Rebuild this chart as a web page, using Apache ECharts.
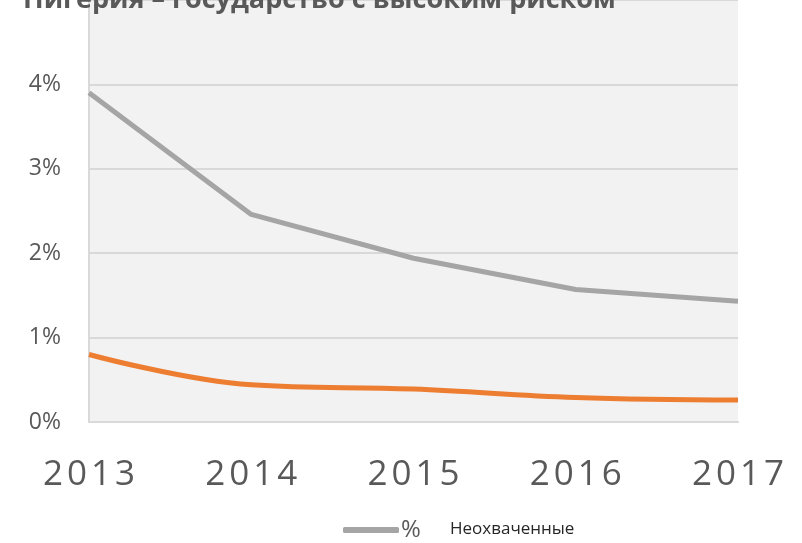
<!DOCTYPE html>
<html>
<head>
<meta charset="utf-8">
<title>Нигерия</title>
<script src="https://cdn.jsdelivr.net/npm/echarts@6/dist/echarts.min.js"></script>
<style>
html, body { margin: 0; padding: 0; background: #fff; }
#chart { width: 802px; height: 543px; }
</style>
</head>
<body>
<div id="chart"></div>
<script type="text/javascript">
var years = ['2013', '2014', '2015', '2016', '2017'];
var pct = [3.9, 2.46, 1.94, 1.57, 1.43];
var uncovered = [0.8, 0.44, 0.39, 0.29, 0.26];

var chart = echarts.init(document.getElementById('chart'));
var option = {
    animation: false,
    title: {
        text: 'Нигерия – государство с высоким риском',
        left: 18,
        top: -18,
        textStyle: { fontFamily: 'Open Sans', fontWeight: 'bold', fontSize: 27, color: '#595959' }
    },
    grid: { left: 89, right: 64, top: 0, bottom: 121, containLabel: false, show: true, backgroundColor: '#f2f2f2', borderWidth: 0 },
    legend: [
        {
            top: 513,
            left: 338,
            itemWidth: 56,
            itemHeight: 6,
            icon: 'roundRect',
            data: [{ name: '%', textStyle: { fontSize: 24, color: '#595959', fontFamily: 'Open Sans', padding: [0, 0, 0, -3] } }]
        },
        {
            top: 516,
            left: 438,
            itemWidth: 1,
            itemHeight: 1,
            data: [{ name: 'Неохваченные', itemStyle: { opacity: 0 }, lineStyle: { opacity: 0 }, textStyle: { fontSize: 17, color: '#262626', fontFamily: 'Open Sans' } }]
        }
    ],
    xAxis: {
        type: 'category',
        boundaryGap: false,
        data: years,
        axisLine: { lineStyle: { color: '#d9d9d9', width: 2 } },
        axisTick: { show: false },
        axisLabel: {
            margin: 36,
            formatter: function (v) {
                return v.split('').map(function (c) { return '{d|' + c + '}'; }).join('');
            },
            rich: { d: { fontSize: 35, color: '#595959', fontFamily: 'Open Sans', fontWeight: 'normal', padding: [0, 2, 0, 2] } }
        }
    },
    yAxis: {
        type: 'value',
        min: 0,
        max: 5,
        interval: 1,
        axisLine: { show: true, lineStyle: { color: '#d9d9d9', width: 2 } },
        splitLine: { lineStyle: { color: '#d9d9d9', width: 2 } },
        axisLabel: {
            fontSize: 23, color: '#595959', fontFamily: 'Open Sans', margin: 28,
            showMaxLabel: false,
            formatter: function (v) { return v + '%'; }
        }
    },
    series: [
        {
            name: '%',
            type: 'line',
            data: pct,
            symbol: 'none',
            lineStyle: { color: '#a5a5a5', width: 5 },
            itemStyle: { color: '#a5a5a5' }
        },
        {
            name: 'Неохваченные',
            type: 'line',
            data: uncovered,
            smooth: 0.4,
            symbol: 'none',
            lineStyle: { color: '#ed7d31', width: 5 },
            itemStyle: { color: '#ed7d31' }
        }
    ]
};
chart.setOption(option);
</script>
</body>
</html>
